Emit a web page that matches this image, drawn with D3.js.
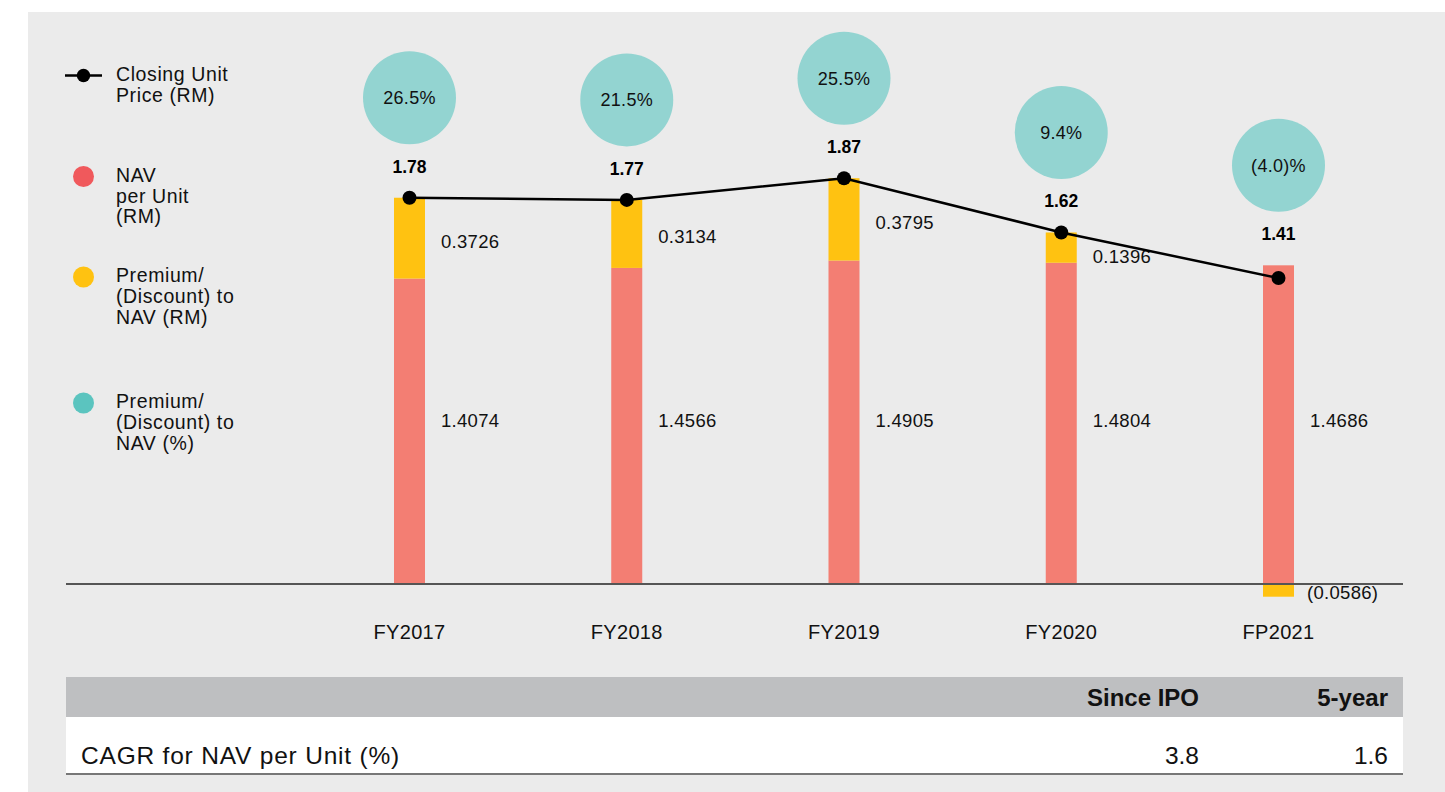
<!DOCTYPE html>
<html>
<head>
<meta charset="utf-8">
<script src="https://cdn.jsdelivr.net/npm/d3@7"></script>
<style>
  html, body { margin: 0; padding: 0; background: #fff; }
  svg { display: block; font-family: "Liberation Sans", Arial, sans-serif; }
</style>
</head>
<body>
<div id="chart"></div>
<script>
// Chart data
const periods = ['FY2017', 'FY2018', 'FY2019', 'FY2020', 'FP2021'];
const navPerUnit = [1.4074, 1.4566, 1.4905, 1.4804, 1.4686];
const premiumRM = [0.3726, 0.3134, 0.3795, 0.1396, -0.0586];
const closingPrice = [1.78, 1.77, 1.87, 1.62, 1.41];
const premiumPct = [26.5, 21.5, 25.5, 9.4, -4.0];

const tableHeaders = ['Since IPO', '5-year'];
const tableRowLabel = 'CAGR for NAV per Unit (%)';
const tableValues = [3.8, 1.6];

const width = 1445, height = 792;
const colors = {
    bg: '#ebebeb',
    nav: '#f37e73',
    navLegend: '#f0595c',
    prem: '#ffc211',
    pct: '#93d4d1',
    pctLegend: '#5bc4bf',
    header: '#bebfc1'
};

const fmt = (v, digits) => v < 0 ? `(${Math.abs(v).toFixed(digits)})` : v.toFixed(digits);

const svg = d3.select('#chart')
    .append('svg')
    .attr('width', width)
    .attr('height', height);

// Grey panel
svg.append('rect')
    .attr('x', 28).attr('y', 12)
    .attr('width', width - 28).attr('height', height - 12)
    .attr('fill', colors.bg);

// Scales
const x = d3.scalePoint().domain(periods).range([409.5, 1278.5]);
const y = d3.scaleLinear().domain([0, 1]).range([584, 367]);
const barW = 31;

const rows = periods.map((p, i) => ({
    period: p,
    nav: navPerUnit[i],
    prem: premiumRM[i],
    price: closingPrice[i],
    pct: premiumPct[i]
}));

const g = svg.append('g');

// NAV bars
g.selectAll('.nav')
    .data(rows)
    .join('rect')
    .attr('x', d => x(d.period) - barW / 2)
    .attr('y', d => y(d.nav))
    .attr('width', barW)
    .attr('height', d => y(0) - y(d.nav))
    .attr('fill', colors.nav);

// Premium / discount bars (discount drawn below the baseline)
g.selectAll('.prem')
    .data(rows)
    .join('rect')
    .attr('x', d => x(d.period) - barW / 2)
    .attr('y', d => d.prem >= 0 ? y(d.nav + d.prem) : y(0))
    .attr('width', barW)
    .attr('height', d => Math.abs(y(0) - y(Math.abs(d.prem))))
    .attr('fill', colors.prem);

// Baseline
g.append('line')
    .attr('x1', 66).attr('x2', 1403)
    .attr('y1', y(0)).attr('y2', y(0))
    .attr('stroke', '#555').attr('stroke-width', 2);

// NAV labels
g.selectAll('.navLabel')
    .data(rows)
    .join('text')
    .attr('x', d => x(d.period) + barW / 2 + 16)
    .attr('y', 421)
    .attr('dy', '0.35em')
    .attr('font-size', 18.5)
    .attr('letter-spacing', 0.3)
    .attr('fill', '#111')
    .text(d => d.nav.toFixed(4));

// Premium labels
g.selectAll('.premLabel')
    .data(rows)
    .join('text')
    .attr('x', d => x(d.period) + barW / 2 + (d.prem >= 0 ? 16 : 13))
    .attr('y', d => d.prem >= 0
        ? Math.max((y(d.nav) + y(d.nav + d.prem)) / 2 + 3, y(d.price) + 24)
        : 593)
    .attr('dy', '0.35em')
    .attr('font-size', 18.5)
    .attr('letter-spacing', 0.3)
    .attr('fill', '#111')
    .text(d => fmt(d.prem, 4));

// Closing price line
const line = d3.line()
    .x(d => x(d.period))
    .y(d => y(d.price));

g.append('path')
    .datum(rows)
    .attr('d', line)
    .attr('fill', 'none')
    .attr('stroke', '#000')
    .attr('stroke-width', 2.5);

g.selectAll('.dot')
    .data(rows)
    .join('circle')
    .attr('cx', d => x(d.period))
    .attr('cy', d => y(d.price))
    .attr('r', 7)
    .attr('fill', '#000');

// top of each column, used to stack the labels above it
const topY = d => Math.min(y(d.price), y(d.nav + Math.max(d.prem, 0)));

g.selectAll('.priceLabel')
    .data(rows)
    .join('text')
    .attr('x', d => x(d.period))
    .attr('y', d => topY(d) - 25)
    .attr('text-anchor', 'middle')
    .attr('font-size', 17.5)
    .attr('font-weight', 'bold')
    .attr('fill', '#000')
    .text(d => d.price.toFixed(2));

// Premium % bubbles
const bubbles = g.selectAll('.bubble')
    .data(rows)
    .join('g')
    .attr('transform', d => `translate(${x(d.period)},${topY(d) - 100})`);

bubbles.append('circle')
    .attr('r', 46.5)
    .attr('fill', colors.pct);

bubbles.append('text')
    .attr('text-anchor', 'middle')
    .attr('dy', '0.35em')
    .attr('font-size', 18)
    .attr('letter-spacing', 0.3)
    .attr('fill', '#111')
    .text(d => fmt(d.pct, 1) + '%');

// Category labels
g.selectAll('.cat')
    .data(rows)
    .join('text')
    .attr('x', d => x(d.period))
    .attr('y', 639)
    .attr('text-anchor', 'middle')
    .attr('font-size', 20)
    .attr('letter-spacing', 0.3)
    .attr('fill', '#111')
    .text(d => d.period);

// Legend
const legend = svg.append('g')
    .attr('font-size', 19.5)
    .attr('letter-spacing', 0.6)
    .attr('fill', '#111');

const lineItem = legend.append('g');
lineItem.append('line')
    .attr('x1', 65).attr('x2', 102)
    .attr('y1', 75.5).attr('y2', 75.5)
    .attr('stroke', '#000').attr('stroke-width', 2.5);
lineItem.append('circle')
    .attr('cx', 83.5).attr('cy', 75.5).attr('r', 6.7)
    .attr('fill', '#000');

const legendItems = [
    { dotY: null, color: null, textY: 81, lines: ['Closing Unit', 'Price (RM)'] },
    { dotY: 176.5, color: colors.navLegend, textY: 181.7, lines: ['NAV', 'per Unit', '(RM)'] },
    { dotY: 277, color: colors.prem, textY: 282.3, lines: ['Premium/', '(Discount) to', 'NAV (RM)'] },
    { dotY: 403, color: colors.pctLegend, textY: 408.3, lines: ['Premium/', '(Discount) to', 'NAV (%)'] }
];

legendItems.forEach(item => {
    if (item.color) {
        legend.append('circle')
            .attr('cx', 83.5).attr('cy', item.dotY).attr('r', 10.5)
            .attr('fill', item.color);
    }
    const t = legend.append('text').attr('x', 116).attr('y', item.textY);
    item.lines.forEach((l, i) => {
        t.append('tspan')
            .attr('x', 116)
            .attr('dy', i === 0 ? 0 : 20.8)
            .text(l);
    });
});

// CAGR table
const table = svg.append('g');
const colRight = [1199, 1388];

table.append('rect')
    .attr('x', 66).attr('y', 677)
    .attr('width', 1337).attr('height', 40)
    .attr('fill', colors.header);

table.append('rect')
    .attr('x', 66).attr('y', 717)
    .attr('width', 1337).attr('height', 57)
    .attr('fill', '#fff');

table.append('line')
    .attr('x1', 66).attr('x2', 1403)
    .attr('y1', 774).attr('y2', 774)
    .attr('stroke', '#777').attr('stroke-width', 2);

table.selectAll('.th')
    .data(tableHeaders)
    .join('text')
    .attr('x', (d, i) => colRight[i])
    .attr('y', 706)
    .attr('text-anchor', 'end')
    .attr('font-size', 24)
    .attr('font-weight', 'bold')
    .attr('fill', '#111')
    .text(d => d);

table.append('text')
    .attr('x', 81)
    .attr('y', 764)
    .attr('font-size', 24.5)
    .attr('letter-spacing', 0.8)
    .attr('fill', '#111')
    .text(tableRowLabel);

table.selectAll('.td')
    .data(tableValues)
    .join('text')
    .attr('x', (d, i) => colRight[i])
    .attr('y', 764)
    .attr('text-anchor', 'end')
    .attr('font-size', 24.5)
    .attr('fill', '#111')
    .text(d => d.toFixed(1));
</script>
</body>
</html>
